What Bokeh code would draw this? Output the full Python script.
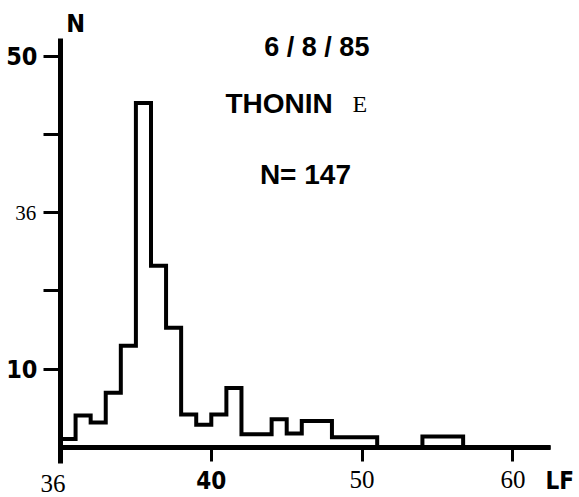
from bokeh.plotting import figure
from bokeh.models import Label, FixedTicker, Range1d
from bokeh.embed import file_html
from bokeh.resources import INLINE

# Histogram of length frequencies (LF): bin edges and counts
edges = [30, 31, 32, 33, 34, 35, 36, 37, 38, 39, 40, 41, 42, 44, 45, 46, 48, 51, 54, 56.7, 62.5]
counts = [1.1, 4.1, 3.2, 7.0, 13.0, 44.0, 23.2, 15.3, 4.2, 2.9, 4.2, 7.6, 1.7, 3.6, 1.8, 3.4, 1.3, 0, 1.4, 0]

x_ticks = [30, 40, 50, 60]
x_tick_labels = ["36", "40", "50", "60"]
x_bold = ["40"]
x_shifted = ["36"]
y_ticks = [10, 20, 30, 40, 50]
y_tick_labels = ["10", "", "36", "", "50"]
y_serif = ["36"]

title_date = "6 / 8 / 85"
species = "THONIN"
species_end = "E"
n_text = "N=  147"
y_name = "N"
x_name = "LF"

BOLD = "DejaVu Sans Condensed"
SERIF = "Liberation Serif"
HEAVY = "Liberation Sans"

W, H = 578, 496
X0_PX, PX_PER_X = 60, 15.08     # screen x of LF=30, pixels per unit
Y0_PX, PX_PER_Y = 447, 7.83     # screen y of N=0, pixels per unit
x_range = Range1d(30 - X0_PX / PX_PER_X, 30 + (W - X0_PX) / PX_PER_X)
y_range = Range1d(-(H - Y0_PX) / PX_PER_Y, Y0_PX / PX_PER_Y)

p = figure(width=W, height=H, x_range=x_range, y_range=y_range,
           output_backend="svg", toolbar_location=None,
           min_border=0, min_border_left=0, min_border_right=0,
           min_border_top=0, min_border_bottom=0)
p.grid.visible = False
p.outline_line_color = None

p.step(x=edges, y=counts + [0], mode="after", line_width=4, line_color="black", line_join="miter")

# x axis, crossing at N = 0
xa = p.xaxis[0]
xa.fixed_location = 0
xa.bounds = (30, 62.5)
xa.ticker = FixedTicker(ticks=x_ticks)
xa.major_label_overrides = {t: ("" if (lab in x_bold or lab in x_shifted) else lab)
                            for t, lab in zip(x_ticks, x_tick_labels)}
xa.axis_line_width = 5
xa.axis_line_color = "black"
xa.major_tick_line_width = 3
xa.major_tick_in = 0
xa.major_tick_out = 14
xa.minor_tick_line_color = None
xa.major_label_text_font = SERIF
xa.major_label_text_font_size = "25px"
xa.major_label_text_color = "black"
xa.major_label_standoff = 9

# y axis, crossing at LF = 30
ya = p.yaxis[0]
ya.fixed_location = 30
ya.bounds = (-2, 52.2)
ya.ticker = FixedTicker(ticks=y_ticks)
ya.major_label_overrides = {t: ("" if lab in y_serif else lab) for t, lab in zip(y_ticks, y_tick_labels)}
ya.axis_line_width = 5
ya.axis_line_color = "black"
ya.major_tick_line_width = 3
ya.major_tick_in = 0
ya.major_tick_out = 17
ya.minor_tick_line_color = None
ya.major_label_text_font = BOLD
ya.major_label_text_font_style = "bold"
ya.major_label_text_font_size = "25px"
ya.major_label_text_color = "black"
ya.major_label_standoff = 6

for t, lab in zip(x_ticks, x_tick_labels):
    if lab in x_bold:
        p.add_layout(Label(x=t, y=-4.2, text=lab, text_align="center", text_baseline="middle",
                           text_font=BOLD, text_font_style="bold", text_font_size="24px", text_color="black"))
    elif lab in x_shifted:
        p.add_layout(Label(x=t - 0.5, y=-4.6, text=lab, text_align="center", text_baseline="middle",
                           text_font=SERIF, text_font_size="25px", text_color="black"))
for t, lab in zip(y_ticks, y_tick_labels):
    if lab in y_serif:
        p.add_layout(Label(x=28.4, y=t, text=lab, text_align="right", text_baseline="middle",
                           text_font=SERIF, text_font_size="21px", text_color="black"))

p.add_layout(Label(x=31.0, y=54.15, text=y_name, text_align="center", text_baseline="middle",
                   text_font=BOLD, text_font_style="bold", text_font_size="25px", text_color="black"))
p.add_layout(Label(x=63.1, y=-4.3, text=x_name, text_align="center", text_baseline="middle",
                   text_font=BOLD, text_font_style="bold", text_font_size="24px", text_color="black"))

p.add_layout(Label(x=47.0, y=51.2, text=title_date, text_align="center", text_baseline="middle",
                   text_font=HEAVY, text_font_style="bold", text_font_size="27px", text_color="black"))
p.add_layout(Label(x=40.94, y=43.9, text=species, text_align="left", text_baseline="middle",
                   text_font=HEAVY, text_font_style="bold", text_font_size="28px", text_color="black"))
p.add_layout(Label(x=49.36, y=43.9, text=species_end, text_align="left", text_baseline="middle",
                   text_font=SERIF, text_font_size="24px", text_color="black"))
p.add_layout(Label(x=46.5, y=34.9, text=n_text, text_align="center", text_baseline="middle",
                   text_font=HEAVY, text_font_style="bold", text_font_size="28px", text_color="black"))

open("out.html", "w").write(file_html(p, INLINE))
